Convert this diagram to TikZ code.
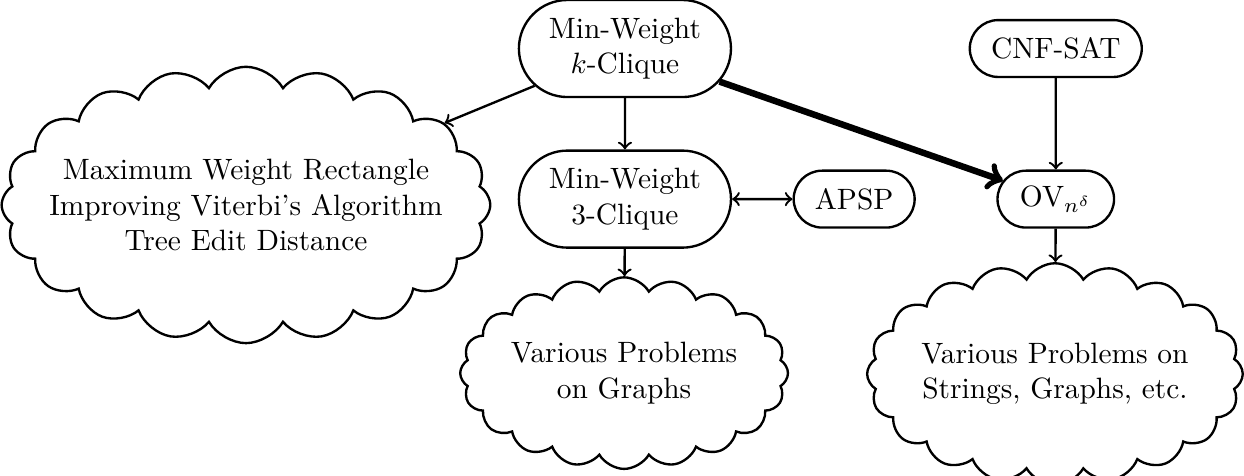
\documentclass[tikz,border=0pt]{standalone}
\usepackage{amsmath}
\usetikzlibrary{shapes.misc, shapes.symbols}
\tikzset{
    prob/.style={draw, rounded rectangle, thick, align=center, minimum height=0.68cm, inner xsep=6.5pt},
    puff/.style={draw, cloud, cloud puffs=20, cloud puff arc=120, aspect=1.92, inner sep=0pt, thick, align=center},
    arr/.style={->, thick}
}

\begin{document}
\begin{tikzpicture}
        \useasboundingbox (0,0) rectangle (14.87,-5.68);
        % --- Nodes ---
        \node [prob, minimum height=1.16cm] (kclique) at (7.47, -0.58) {Min-Weight\\$k$-Clique};
        \node [prob] (cnfsat) at (12.62, -0.58) {CNF-SAT};
        \node [prob, minimum height=1.16cm] (tclique) at (7.47, -2.38) {Min-Weight\\3-Clique};
        \node [prob] (apsp) at (10.21, -2.38) {APSP};
        \node [prob] (ov) at (12.62, -2.38) {OV$_{n^\delta}$};

        % --- Clouds ---
        \node [puff, aspect=2, inner sep=-10pt] (rect) at (2.94, -2.45)
            {Maximum Weight Rectangle\\Improving Viterbi's Algorithm\\Tree Edit Distance};
        \node [puff, inner sep=-0.4pt] (graphs) at (7.46, -4.46)
            {Various Problems\\on Graphs};
        \node [puff, aspect=1.9, inner sep=-1.8pt] (strings) at (12.61, -4.47)
            {Various Problems on\\Strings, Graphs, etc.};

        % --- Reductions ---
        \draw [arr] (kclique) -- (rect);
        \draw [arr] (kclique) -- (tclique);
        \draw [<->, thick] (tclique) -- (apsp);
        \draw [->, line width=2.2pt] (kclique) -- (ov);
        \draw [arr] (cnfsat) -- (ov);
        \draw [arr] (tclique) -- (graphs);
        \draw [arr] (ov) -- (strings);

    \end{tikzpicture}
\end{document}
